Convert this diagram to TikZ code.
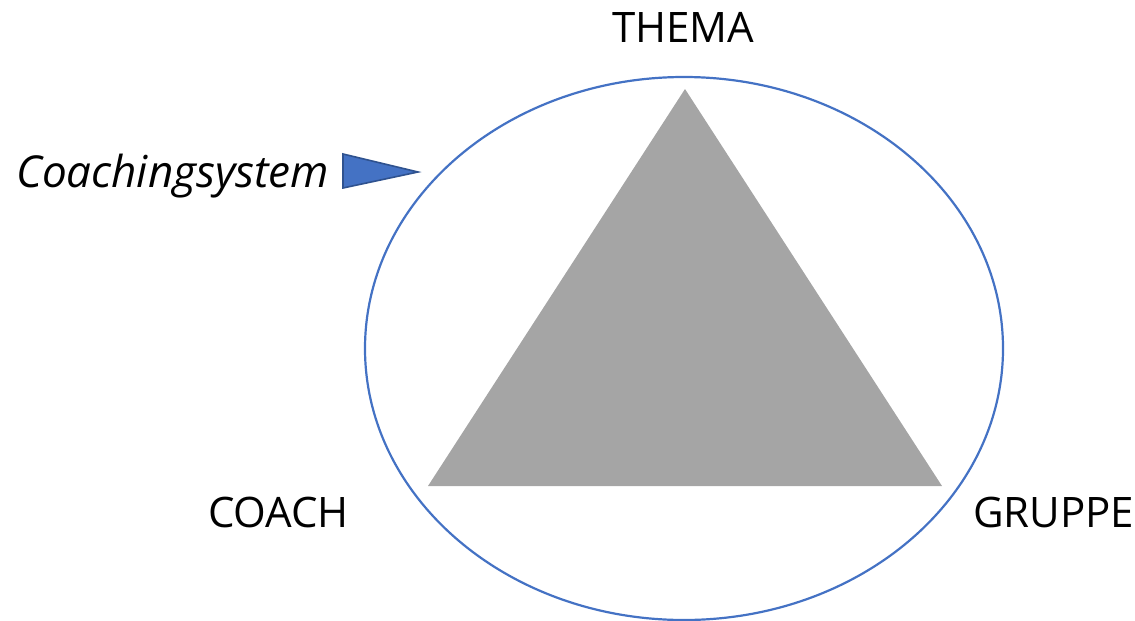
\documentclass[tikz,border=0pt]{standalone}
\usepackage{fontspec}
\usetikzlibrary{shapes.geometric}
\setmainfont{Open Sans}
\begin{document}
\begin{tikzpicture}[x=1pt,y=-1pt,
  lbl/.style={inner sep=0pt,anchor=base west,font=\fontsize{42}{50}\selectfont},
  ring/.style={draw=ringblue,line width=2.2pt},
  tri/.style={fill=trigray,draw=none},
  pointer/.style={fill=ptrblue,draw=ptrborder,line width=1.6pt,line join=miter}]
\definecolor{ringblue}{HTML}{4472C4}
\definecolor{trigray}{HTML}{A5A5A5}
\definecolor{ptrblue}{HTML}{4472C4}
\definecolor{ptrborder}{HTML}{2F528F}
\useasboundingbox (0,0) rectangle (1135,621);
\node[ring,ellipse,minimum width=638pt,minimum height=543pt,inner sep=0pt] (sys) at (684,348.5) {};
\coordinate (apex) at (685,89);
\coordinate (bl) at (428,486);
\coordinate (br) at (942,486);
\fill[tri] (apex) -- (bl) -- (br) -- cycle;
\coordinate (p1) at (343,154);
\coordinate (p2) at (343,188);
\coordinate (p3) at (418,172);
\draw[pointer] (p1) -- (p3) -- (p2) -- cycle;
\node[lbl] (thema) at (612,42) {THEMA};
\node[lbl] (coach) at (208,527) {COACH};
\node[lbl] (gruppe) at (973,527) {GRUPPE};
\node[lbl,font=\fontsize{44}{52}\selectfont\itshape] (cs) at (16,187) {Coachingsystem};
\end{tikzpicture}
\end{document}
